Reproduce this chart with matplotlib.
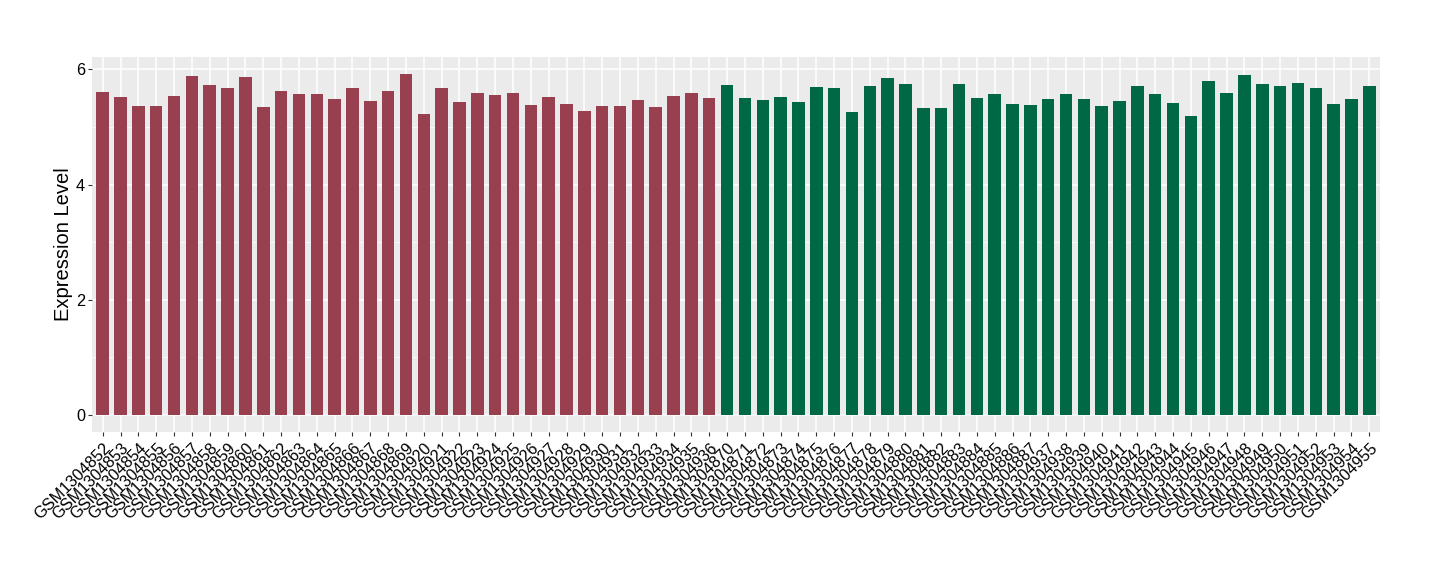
import numpy as np
import matplotlib.pyplot as plt
from matplotlib.ticker import MultipleLocator

plt.rcParams['font.family'] = ['Liberation Sans', 'DejaVu Sans']

# samples in plotting order
red_samples = ['GSM13048%d' % n for n in range(52, 70)] + ['GSM13049%d' % n for n in range(20, 37)]
green_samples = ['GSM13048%d' % n for n in range(70, 88)] + ['GSM13049%d' % n for n in range(37, 56)]

red_values = [5.61, 5.52, 5.36, 5.36, 5.54, 5.88, 5.73, 5.67, 5.87, 5.35,
              5.62, 5.57, 5.57, 5.48, 5.67, 5.45, 5.62, 5.92, 5.22, 5.67,
              5.43, 5.59, 5.55, 5.59, 5.38, 5.52, 5.40, 5.28, 5.36, 5.36,
              5.47, 5.35, 5.54, 5.59, 5.50]
green_values = [5.73, 5.50, 5.47, 5.52, 5.43, 5.69, 5.67, 5.26, 5.71, 5.85,
                5.74, 5.33, 5.33, 5.74, 5.50, 5.57, 5.40, 5.38,
                5.48, 5.57, 5.48, 5.36, 5.45, 5.71, 5.57, 5.42, 5.19, 5.80,
                5.59, 5.90, 5.74, 5.71, 5.76, 5.67, 5.40, 5.48, 5.71]

red_color = '#994050'
green_color = '#006845'

labels = red_samples + green_samples
values = red_values + green_values
colors = [red_color] * len(red_values) + [green_color] * len(green_values)
x = np.arange(len(labels))

fig = plt.figure(figsize=(14.4, 5.8), dpi=100)
ax = fig.add_axes([92 / 1440, 1 - 432 / 580, (1380 - 92) / 1440, (432 - 57) / 580])

ax.set_facecolor('#EBEBEB')
ax.set_axisbelow(True)
ax.yaxis.set_major_locator(MultipleLocator(2))
ax.yaxis.set_minor_locator(MultipleLocator(1))
ax.grid(True, which='major', axis='both', color='white', linewidth=1.1)
ax.grid(True, which='minor', axis='y', color='white', linewidth=0.5)

ax.bar(x, values, width=0.7, color=colors)

ymax = max(values)
ax.set_ylim(-0.05 * ymax, ymax * 1.05)
ax.set_xlim(-0.6, len(labels) - 0.4)

ax.set_xticks(x)
ax.set_xticklabels(labels, rotation=45, ha='right', rotation_mode='anchor', fontsize=11.7)
ax.tick_params(axis='y', labelsize=11.7, pad=2)
ax.tick_params(axis='x', pad=3)
ax.tick_params(axis='both', which='major', length=3, color='#333333', labelcolor='black')
ax.tick_params(axis='y', which='minor', length=0)

for s in ax.spines.values():
    s.set_visible(False)

ax.set_ylabel('Expression Level', fontsize=14.5, labelpad=2)

fig.savefig('out.png', dpi=100)
